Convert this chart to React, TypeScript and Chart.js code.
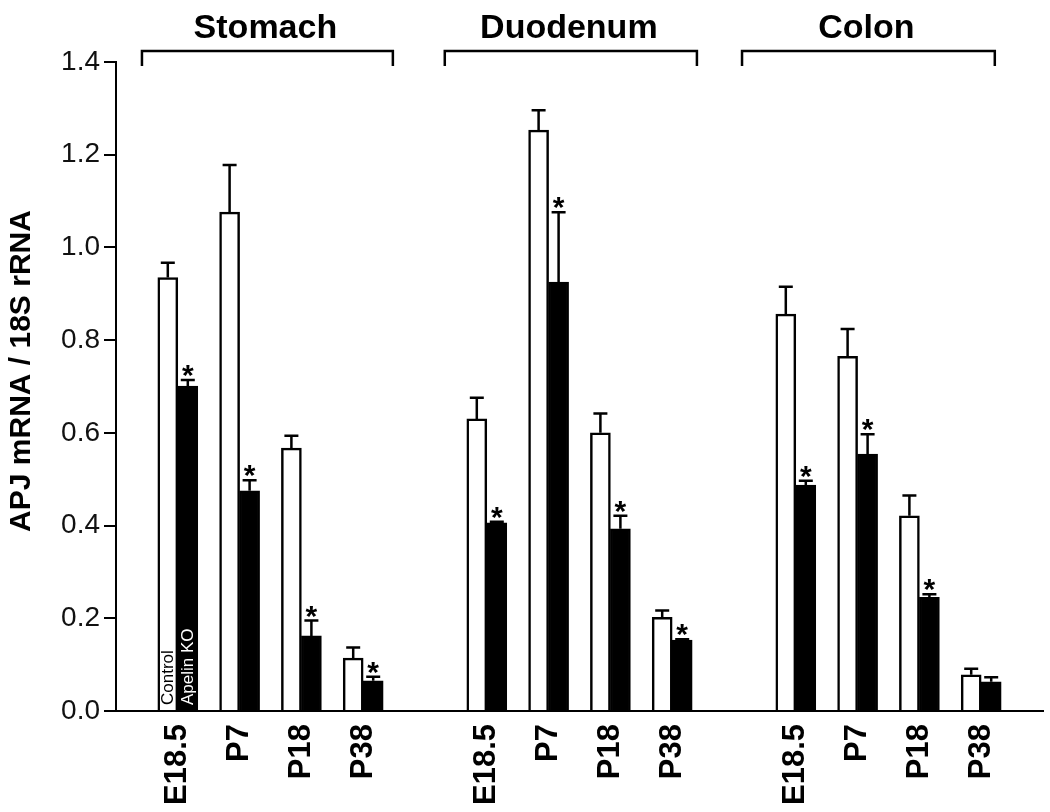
import { useEffect, useRef } from 'react';
import { Chart, registerables } from 'chart.js';

Chart.register(...registerables);

const tissues = ['Stomach', 'Duodenum', 'Colon'];
const ages = ['E18.5', 'P7', 'P18', 'P38'];
const yTicks = [0, 0.2, 0.4, 0.6, 0.8, 1.0, 1.2, 1.4];

// Control (white bars)
const controlStomach = [0.935, 1.076, 0.567, 0.114];
const controlDuodenum = [0.63, 1.253, 0.6, 0.202];
const controlColon = [0.856, 0.765, 0.421, 0.078];
const controlErrStomach = [0.032, 0.102, 0.027, 0.023];
const controlErrDuodenum = [0.046, 0.043, 0.042, 0.015];
const controlErrColon = [0.059, 0.059, 0.044, 0.013];

// Apelin KO (black bars)
const koStomach = [0.701, 0.475, 0.162, 0.065];
const koDuodenum = [0.406, 0.925, 0.393, 0.153];
const koColon = [0.4875, 0.554, 0.245, 0.063];
const koErrStomach = [0.013, 0.023, 0.033, 0.009];
const koErrDuodenum = [0.002, 0.151, 0.028, 0.002];
const koErrColon = [0.009, 0.043, 0.007, 0.01];

// significance (*) on KO bars
const sigStomach = [true, true, true, true];
const sigDuodenum = [true, true, true, true];
const sigColon = [true, true, true, false];

const FONT = '"Liberation Sans", Arial, Helvetica, sans-serif';

// Layout: bracket extents in slot units along the x axis (16 slots, 0..15)
const BRACKETS: [number, number][] = [
  [0.42, 4.48],
  [5.32, 9.4],
  [10.13, 14.22],
];

function buildSlots<T>(groups: T[][], blank: T): T[] {
  const out: T[] = [blank];
  groups.forEach((g) => {
    out.push(...g);
    out.push(blank);
  });
  return out;
}

const labels = buildSlots([ages, ages, ages], '');
const controlAll = buildSlots<number | null>([controlStomach, controlDuodenum, controlColon], null);
const koAll = buildSlots<number | null>([koStomach, koDuodenum, koColon], null);
const controlErrAll = buildSlots<number>([controlErrStomach, controlErrDuodenum, controlErrColon], 0);
const koErrAll = buildSlots<number>([koErrStomach, koErrDuodenum, koErrColon], 0);
const sigAll = buildSlots<boolean>([sigStomach, sigDuodenum, sigColon], false);

const overlay = {
  id: 'overlay',
  afterDatasetsDraw(chart: any) {
    const ctx: CanvasRenderingContext2D = chart.ctx;
    const ys = chart.scales.y;
    const xs = chart.scales.x;
    ctx.save();
    // error bars and stars
    [0, 1].forEach((di) => {
      const meta = chart.getDatasetMeta(di);
      const errs = di === 0 ? controlErrAll : koErrAll;
      const vals = chart.data.datasets[di].data;
      meta.data.forEach((bar: any, i: number) => {
        const v = vals[i];
        if (v == null) return;
        const top = ys.getPixelForValue(v + errs[i]);
        ctx.strokeStyle = '#000';
        ctx.lineWidth = 2.5;
        ctx.beginPath();
        ctx.moveTo(bar.x, bar.y);
        ctx.lineTo(bar.x, top);
        ctx.moveTo(bar.x - 7, top);
        ctx.lineTo(bar.x + 7, top);
        ctx.stroke();
        if (di === 1 && sigAll[i]) {
          const s = 30;
          ctx.font = `bold ${s}px ${FONT}`;
          ctx.fillStyle = '#000';
          ctx.textAlign = 'center';
          ctx.textBaseline = 'alphabetic';
          ctx.fillText('*', bar.x, top - 12 + 0.57 * s);
        }
      });
    });

    // legend text inside the first pair of bars
    const firstIdx = 1;
    const cBar = chart.getDatasetMeta(0).data[firstIdx];
    const kBar = chart.getDatasetMeta(1).data[firstIdx];
    ctx.font = `17px ${FONT}`;
    ctx.textAlign = 'left';
    ctx.textBaseline = 'middle';
    [
      [cBar, chart.data.datasets[0].label, '#000'],
      [kBar, chart.data.datasets[1].label, '#fff'],
    ].forEach(([bar, txt, col]: any) => {
      ctx.save();
      ctx.translate(bar.x + 1, ys.bottom - 6);
      ctx.rotate(-Math.PI / 2);
      ctx.fillStyle = col;
      ctx.fillText(txt, 0, 0);
      ctx.restore();
    });

    // brackets + tissue headers
    const slotW = xs.width / (labels.length - 1);
    ctx.strokeStyle = '#000';
    ctx.lineWidth = 2.5;
    BRACKETS.forEach(([a, b], t) => {
      const x1 = xs.left + a * slotW;
      const x2 = xs.left + b * slotW;
      ctx.beginPath();
      ctx.moveTo(x1, 66);
      ctx.lineTo(x1, 51);
      ctx.lineTo(x2, 51);
      ctx.lineTo(x2, 66);
      ctx.stroke();
      ctx.font = `bold 34px ${FONT}`;
      ctx.fillStyle = '#000';
      ctx.textAlign = 'center';
      ctx.textBaseline = 'alphabetic';
      ctx.fillText(tissues[t], (x1 + x2) / 2 - 2, 38);
    });

    // y axis title
    ctx.save();
    ctx.translate(22, 371);
    ctx.rotate(-Math.PI / 2);
    ctx.font = `bold 30px ${FONT}`;
    ctx.fillStyle = '#000';
    ctx.textAlign = 'center';
    ctx.textBaseline = 'middle';
    ctx.fillText('APJ mRNA / 18S rRNA', 0, 0);
    ctx.restore();

    ctx.restore();
  },
};

export default function App() {
  const ref = useRef<HTMLCanvasElement | null>(null);
  useEffect(() => {
    if (!ref.current) return;
    const chart = new Chart(ref.current, {
      type: 'bar',
      data: {
        labels,
        datasets: [
          {
            label: 'Control',
            data: controlAll,
            backgroundColor: '#fff',
            borderColor: '#000',
            borderWidth: 2.5,
            barThickness: 20,
          },
          {
            label: 'Apelin KO',
            data: koAll,
            backgroundColor: '#000',
            borderColor: '#000',
            borderWidth: 2,
            barThickness: 20,
          },
        ],
      },
      options: {
        responsive: false,
        animation: false,
        devicePixelRatio: 1,
        layout: { padding: { top: 62, right: 7, left: 0, bottom: 0 } },
        plugins: {
          legend: { display: false },
          tooltip: { enabled: false },
        },
        scales: {
          x: {
            type: 'category',
            offset: false,
            grid: { display: false, drawTicks: false },
            border: { display: true, color: '#000', width: 2 },
            ticks: {
              autoSkip: false,
              minRotation: 90,
              maxRotation: 90,
              padding: 13,
              color: '#000',
              font: { family: FONT, size: 31, weight: 'bold' },
            },
            afterFit: (s: any) => {
              s.height = 101;
              s.paddingLeft = 0;
              s.paddingRight = 0;
            },
          },
          y: {
            min: 0,
            max: 1.4,
            afterBuildTicks: (s: any) => {
              s.ticks = yTicks.map((v) => ({ value: v }));
            },
            grid: {
              drawOnChartArea: false,
              drawTicks: true,
              tickLength: 12,
              lineWidth: 2,
              color: '#000',
            },
            border: { display: true, color: '#000', width: 2 },
            ticks: {
              padding: 4,
              color: '#111',
              font: { family: FONT, size: 28 },
              callback: (v: any) => Number(v).toFixed(1),
            },
            afterFit: (s: any) => {
              s.width = 116;
            },
          },
        },
      },
      plugins: [overlay],
    });
    return () => chart.destroy();
  }, []);
  return (
    <div style={{ position: 'absolute', left: 0, top: 0, width: 1050, height: 812, background: '#fff' }}>
      <canvas ref={ref} width={1050} height={812} />
    </div>
  );
}
